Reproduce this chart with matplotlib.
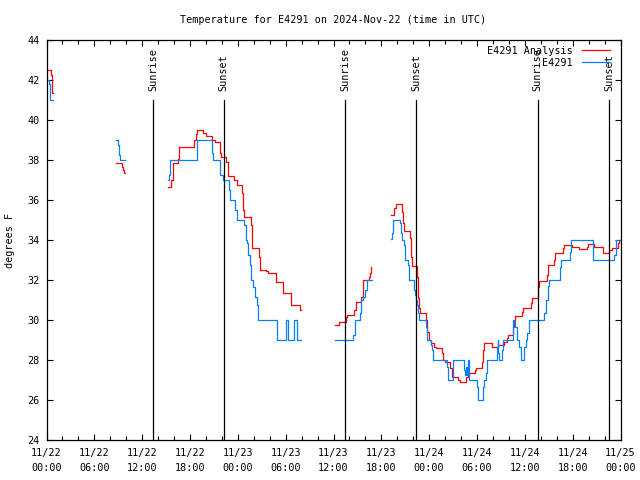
import numpy as np
import matplotlib
matplotlib.use("Agg")
import matplotlib.pyplot as plt
from matplotlib.ticker import MultipleLocator

nan = np.nan

# hours since 2024-11-22 00:00 UTC ; NaN marks a gap end
red_t = [0.0, 0.55, 0.65, 0.75, 0.8,
         8.76, 9.47, 9.6, 9.76, 9.85,
         15.28, 15.58, 15.83, 16.53, 16.66, 17.59, 18.5, 18.72, 18.84, 19.67,
         19.97, 20.8, 21.14, 21.76, 21.85, 22.52, 22.71, 23.58, 23.93, 24.56,
         24.69, 24.81, 25.59, 25.74, 25.82, 26.66, 26.78, 27.54, 27.82, 28.73,
         29.67, 30.7, 31.74, 31.89,
         36.19, 36.63, 37.63, 37.73, 38.57, 38.79, 39.51, 39.66, 39.74, 40.45,
         40.58, 40.71, 40.74,
         43.22, 43.59, 43.8, 44.63, 44.76, 44.85, 45.6, 45.72, 45.81, 46.51,
         46.64, 46.76, 46.85, 47.61, 47.77, 47.98, 48.19, 48.65, 48.86, 49.61,
         49.78, 49.99, 50.62, 50.83, 51.58, 51.87, 52.58, 52.84, 53.04, 53.75,
         53.88, 54.59, 54.72, 54.88, 55.85, 56.67, 57.39, 57.73, 57.85, 58.56,
         58.68, 58.81, 59.69, 59.81, 60.74, 60.86, 61.69, 61.78, 62.75, 62.87,
         63.66, 63.82, 64.75, 64.95, 65.88, 66.83, 67.76, 67.96, 68.72, 69.77,
         69.85, 70.6, 70.9, 71.65, 71.82, 72.03]
red_v = [42.5, 42.25, 41.7, 41.35, nan,
         37.83, 37.67, 37.5, 37.35, nan,
         36.67, 37.0, 37.87, 38.03, 38.63, 38.67, 39.0, 39.28, 39.5, 39.33,
         39.2, 39.0, 38.9, 38.33, 38.13, 37.9, 37.2, 37.0, 36.75, 36.33,
         35.5, 35.17, 34.75, 34.0, 33.58, 33.17, 32.5, 32.45, 32.37, 31.9,
         31.33, 30.75, 30.5, nan,
         29.75, 29.92, 30.13, 30.25, 30.5, 30.92, 31.17, 31.67, 32.0, 32.13,
         32.33, 32.63, nan,
         35.25, 35.58, 35.78, 35.42, 34.83, 34.45, 34.08, 33.17, 32.7, 32.17,
         31.08, 30.58, 30.33, 30.0, 29.42, 29.0, 28.83, 28.67, 28.58, 28.33,
         28.0, 27.92, 27.62, 27.17, 27.0, 26.92, 27.17, 27.25, 27.33, 27.5,
         27.58, 27.92, 28.5, 28.83, 28.67, 28.75, 28.92, 29.08, 29.25, 29.67,
         30.0, 30.22, 30.42, 30.58, 30.83, 31.08, 31.67, 31.95, 32.25, 32.75,
         33.0, 33.37, 33.58, 33.75, 33.67, 33.53, 33.67, 33.78, 33.67, 33.5,
         33.37, 33.5, 33.62, 33.83, 34.0, nan]

blue_t = [0.0, 0.28, 0.4, 0.45, 0.78,
          8.76, 9.0, 9.13, 9.26, 9.81,
          15.28, 15.37, 15.49, 18.94, 20.72, 20.89, 21.76, 22.08, 22.83, 22.98,
          23.65, 23.9, 24.81, 24.99, 25.15, 25.31, 25.53, 25.69, 25.9, 26.15,
          26.37, 26.53, 28.96, 29.99, 30.24, 31.04, 31.46, 31.94,
          36.19, 38.49, 38.7, 39.36, 39.51, 39.74, 39.95, 40.17, 40.79,
          43.22, 43.28, 43.5, 44.34, 44.47, 44.56, 44.88, 44.97, 45.38, 45.47,
          46.14, 46.22, 46.35, 46.44, 46.64, 46.69, 47.64, 47.77, 48.23, 48.4,
          48.52, 50.2, 50.33, 50.95, 51.03, 52.41, 52.5, 52.58, 52.71, 52.84,
          53.04, 53.96, 54.09, 54.72, 54.92, 55.13, 55.22, 56.47, 56.6, 56.67,
          56.8, 57.18, 57.3, 58.48, 58.56, 58.77, 58.98, 59.31, 59.52, 59.94,
          60.11, 60.31, 60.53, 62.44, 62.62, 62.87, 62.95, 63.07, 64.41, 64.5,
          65.67, 65.79, 68.52, 68.59, 71.23, 71.4, 72.03]
blue_v = [42.0, 41.8, 41.35, 41.0, nan,
          39.0, 38.75, 38.25, 38.0, nan,
          37.0, 37.25, 38.0, 39.0, 38.33, 38.0, 37.25, 37.0, 36.5, 36.0,
          35.5, 35.0, 34.75, 34.0, 33.83, 33.25, 32.75, 32.0, 31.67, 31.17,
          30.75, 30.0, 29.0, 30.0, 29.0, 30.0, 29.0, nan,
          29.0, 29.25, 30.0, 30.33, 31.0, 31.17, 31.5, 32.0, nan,
          34.03, 34.33, 35.0, 34.83, 34.33, 34.0, 33.75, 33.0, 32.75, 32.0,
          31.5, 31.25, 31.0, 30.75, 30.33, 30.0, 29.67, 29.0, 28.75, 28.5,
          28.0, 27.67, 27.0, 27.42, 28.0, 27.5, 27.25, 27.67, 27.25, 28.0,
          27.0, 26.67, 26.0, 26.67, 27.0, 27.33, 28.0, 28.67, 29.0, 28.33,
          28.0, 28.5, 29.0, 29.5, 30.0, 29.67, 29.0, 28.67, 28.0, 28.67,
          29.0, 29.33, 30.0, 30.33, 31.0, 31.25, 31.7, 32.0, 32.67, 33.0,
          33.42, 34.0, 33.67, 33.0, 33.25, 34.0, nan]

sun_times = [13.36, 22.24, 37.49, 46.41, 61.61, 70.62]
sun_labels = ["Sunrise", "Sunset", "Sunrise", "Sunset", "Sunrise", "Sunset"]

xtick_pos = [0, 6, 12, 18, 24, 30, 36, 42, 48, 54, 60, 66, 72]
xtick_labels = ["11/22\n00:00", "11/22\n06:00", "11/22\n12:00", "11/22\n18:00",
                "11/23\n00:00", "11/23\n06:00", "11/23\n12:00", "11/23\n18:00",
                "11/24\n00:00", "11/24\n06:00", "11/24\n12:00", "11/24\n18:00",
                "11/25\n00:00"]

plt.rcParams['font.family'] = ['DejaVu Sans Mono']
plt.rcParams['font.size'] = 7

fs = 7.3
fig = plt.figure(figsize=(6.4, 4.8), dpi=100)
ax = fig.add_axes([46.5 / 640, 1 - 440 / 480, 574 / 640, 400 / 480])

ax.plot(red_t, red_v, drawstyle='steps-post', color='#ff0000', lw=0.9,
        label='E4291 Analysis')
ax.plot(blue_t, blue_v, drawstyle='steps-post', color='#0080ff', lw=0.9,
        label='E4291')

for t, lab in zip(sun_times, sun_labels):
    ax.plot([t, t], [24, 41.02], color='black', lw=0.9)
    ax.text(t, 41.45, lab, rotation=90, ha='center', va='bottom', fontsize=fs)

ax.set_xlim(0, 72)
ax.set_ylim(24, 44)
ax.set_xticks(xtick_pos)
ax.set_xticklabels(xtick_labels, fontsize=fs, linespacing=1.55)
ax.xaxis.set_minor_locator(MultipleLocator(2))
ax.set_yticks(np.arange(24, 45, 2))
ax.tick_params(axis='x', which='major', pad=6)
ax.tick_params(axis='both', which='major', direction='in', length=4.5, width=0.8,
               top=True, right=True, labelsize=fs)
ax.tick_params(axis='y', which='major', pad=5)
ax.tick_params(axis='both', which='minor', direction='in', length=3, width=0.8,
               top=True, right=True)
for s in ax.spines.values():
    s.set_linewidth(0.9)

ax.set_ylabel('degrees F', fontsize=fs, labelpad=9)
ax.set_title('Temperature for E4291 on 2024-Nov-22 (time in UTC)', fontsize=fs, pad=12.5)

leg = ax.legend(loc='upper right', bbox_to_anchor=(1 - 5 / 574, 1),
                frameon=False, fontsize=fs, handlelength=2.8,
                markerfirst=False, borderaxespad=0.55, labelspacing=0.2,
                handletextpad=0.9, borderpad=0.0)
for txt in leg.get_texts():
    txt.set_ha('right')

fig.savefig('out.png', dpi=100)
